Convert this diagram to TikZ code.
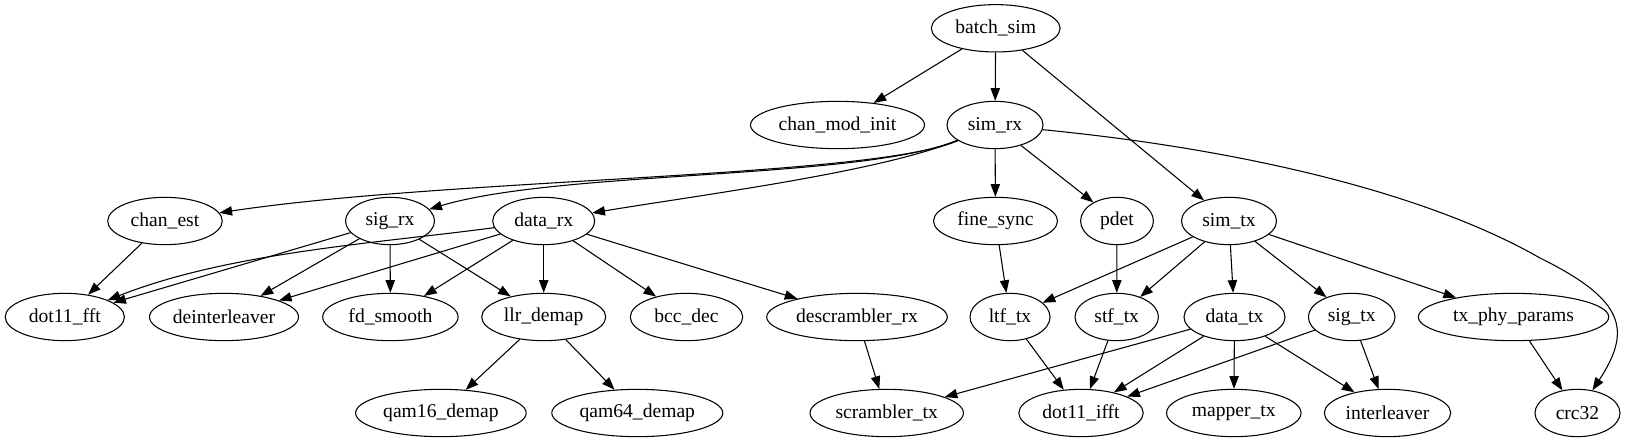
\documentclass[tikz,border=0pt]{standalone}
\usepackage{fontspec}
\newfontfamily\gvfont{Liberation Serif}
\usetikzlibrary{shapes.geometric,arrows.meta}
\begin{document}
\begin{tikzpicture}[x=0.75pt,y=-0.75pt,
  nd/.style={ellipse,draw,line width=0.8pt,minimum height=35.5pt,inner sep=0pt,minimum width=#1*1.5pt,font=\gvfont\fontsize{14.7}{16}\selectfont},
  ed/.style={line width=0.8pt,-{Triangle[length=9.5pt,width=7pt]}}]
\useasboundingbox (0,0) rectangle (1627,443);
% row 1
\node[nd=64.4] (batchsim) at (995.7,28.3) {batch\_sim};
% row 2
\node[nd=87] (chanmodinit) at (837.5,125) {chan\_mod\_init};
\node[nd=48] (simrx) at (995,125) {sim\_rx};
% row 3
\node[nd=57.3] (chanest) at (165,221) {chan\_est};
\node[nd=44.5] (sigrx) at (390,221) {sig\_rx};
\node[nd=51] (datarx) at (543.7,221) {data\_rx};
\node[nd=62] (finesync) at (995.5,221) {fine\_sync};
\node[nd=36.4] (pdet) at (1117,221) {pdet};
\node[nd=47.5] (simtx) at (1229,221) {sim\_tx};
% row 4
\node[nd=59.6] (dotfft) at (64.8,317) {dot11\_fft};
\node[nd=74.5] (deint) at (224,317) {deinterleaver};
\node[nd=67.7] (fdsmooth) at (390.4,317) {fd\_smooth};
\node[nd=62] (llrdemap) at (543.7,317) {llr\_demap};
\node[nd=56.2] (bccdec) at (686.5,317) {bcc\_dec};
\node[nd=90.3] (descr) at (857,317) {descrambler\_rx};
\node[nd=40] (ltftx) at (1010,317) {ltf\_tx};
\node[nd=41.7] (stftx) at (1116.7,317) {stf\_tx};
\node[nd=50.5] (datatx) at (1234.5,317) {data\_tx};
\node[nd=43.3] (sigtx) at (1351.7,317) {sig\_tx};
\node[nd=95.2] (txphy) at (1513.5,317) {tx\_phy\_params};
% row 5
\node[nd=85.3] (qamsixteen) at (440.9,413) {qam16\_demap};
\node[nd=85.5] (qamsixtyfour) at (637.3,413) {qam64\_demap};
\node[nd=76.7] (scrtx) at (886.7,413) {scrambler\_tx};
\node[nd=62.2] (dotifft) at (1081,413) {dot11\_ifft};
\node[nd=67.2] (mappertx) at (1233.8,413) {mapper\_tx};
\node[nd=63.2] (interl) at (1387.5,413) {interleaver};
\node[nd=42.5] (crc) at (1577.5,413) {crc32};
\coordinate (crcmid) at (1540,258);
% edges
\draw[ed] (batchsim) -- (chanmodinit);
\draw[ed] (batchsim) -- (simrx);
\draw[ed] (batchsim) -- (simtx);
\draw[ed] (simrx) .. controls (870,178) and (450,178) .. (chanest);
\draw[ed] (simrx) .. controls (860,180) and (560,170) .. (sigrx);
\draw[ed] (simrx) .. controls (880,172) and (700,195) .. (datarx);
\draw[ed] (simrx) -- (finesync);
\draw[ed] (simrx) -- (pdet);
\draw[line width=0.8pt] (simrx) .. controls (1250,150) and (1430,195) .. (crcmid);
\draw[ed] (crcmid) .. controls (1625,300) and (1632,330) .. (crc);
\draw[ed] (chanest) -- (dotfft);
\draw[ed] (sigrx) -- (dotfft);
\draw[ed] (sigrx) -- (deint);
\draw[ed] (sigrx) -- (fdsmooth);
\draw[ed] (sigrx) -- (llrdemap);
\draw[ed] (datarx) .. controls (380,243) and (230,252) .. (dotfft);
\draw[ed] (datarx) -- (deint);
\draw[ed] (datarx) -- (fdsmooth);
\draw[ed] (datarx) -- (llrdemap);
\draw[ed] (datarx) -- (bccdec);
\draw[ed] (datarx) -- (descr);
\draw[ed] (llrdemap) -- (qamsixteen);
\draw[ed] (llrdemap) -- (qamsixtyfour);
\draw[ed] (descr) -- (scrtx);
\draw[ed] (finesync) -- (ltftx);
\draw[ed] (pdet) -- (stftx);
\draw[ed] (simtx) -- (ltftx);
\draw[ed] (simtx) -- (stftx);
\draw[ed] (simtx) -- (datatx);
\draw[ed] (simtx) -- (sigtx);
\draw[ed] (simtx) -- (txphy);
\draw[ed] (ltftx) -- (dotifft);
\draw[ed] (stftx) -- (dotifft);
\draw[ed] (datatx) -- (scrtx);
\draw[ed] (datatx) -- (dotifft);
\draw[ed] (datatx) -- (mappertx);
\draw[ed] (datatx) -- (interl);
\draw[ed] (sigtx) -- (dotifft);
\draw[ed] (sigtx) -- (interl);
\draw[ed] (txphy) -- (crc);
\end{tikzpicture}
\end{document}
